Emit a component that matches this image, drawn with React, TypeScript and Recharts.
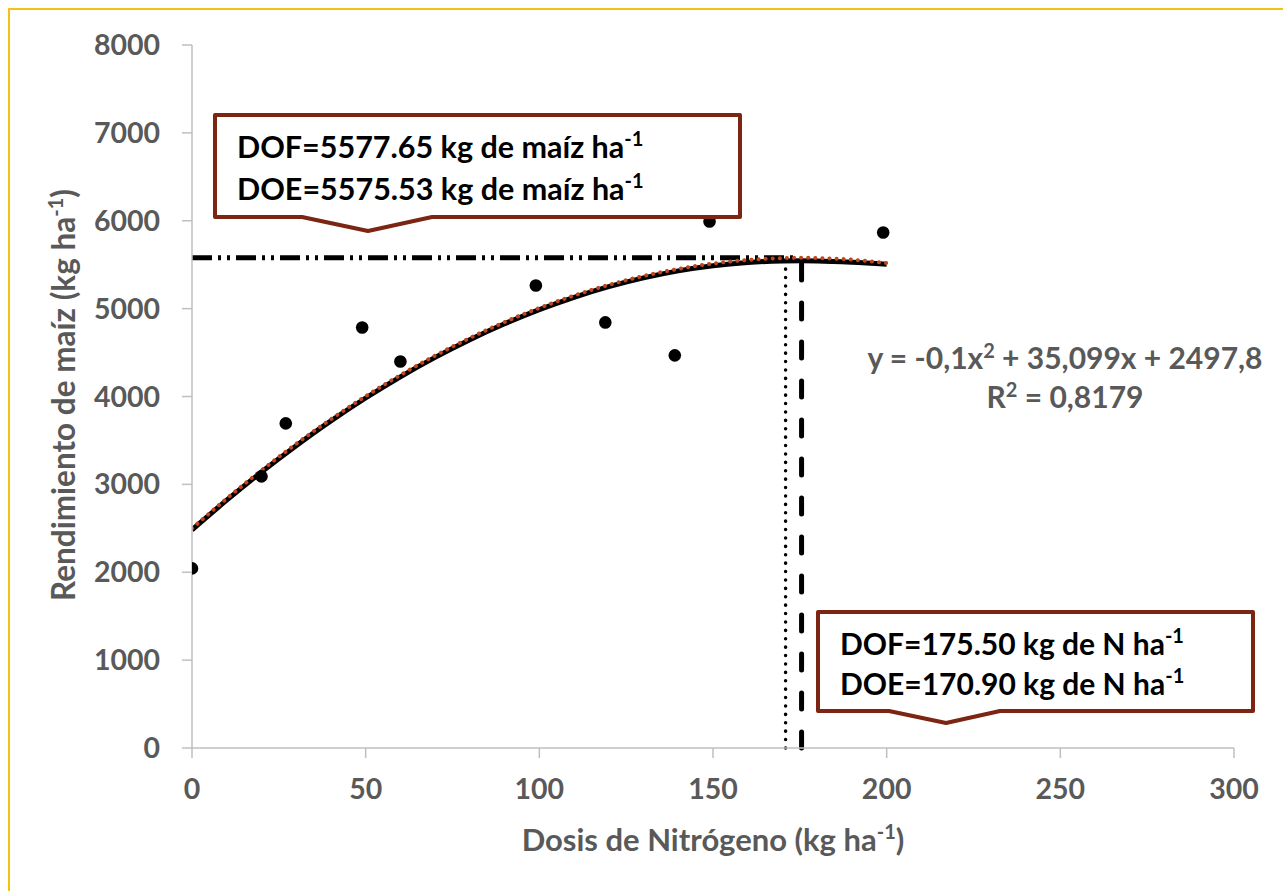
import React from "react";
import { ComposedChart, Line, Scatter, XAxis, YAxis, ReferenceLine } from "recharts";

// Observed data (dose of N, maize yield)
const nitrogenDoses = [0, 20, 27, 49, 60, 99, 119, 139, 149, 199];
const observedYields = [2044, 3091, 3694, 4786, 4399, 5264, 4843, 4468, 5992, 5867];

// Fitted response curve (black solid) and polynomial trendline (red dotted)
const curveDoses = [0, 10, 20, 30, 40, 50, 60, 70, 80, 90, 100, 110, 120, 130, 140, 150, 160, 170, 175.5, 180, 190, 200];
const fittedYields = [2482, 2820, 3140, 3440, 3722, 3983, 4224, 4445, 4646, 4827, 4988, 5129, 5250, 5350, 5430, 5488, 5525, 5542, 5545, 5543, 5528, 5505];
const trendYields = [2498, 2839, 3160, 3461, 3742, 4003, 4244, 4465, 4666, 4847, 5008, 5149, 5270, 5371, 5452, 5513, 5554, 5575, 5578, 5576, 5557, 5518];

const xTicks = [0, 50, 100, 150, 200, 250, 300];
const yTicks = [0, 1000, 2000, 3000, 4000, 5000, 6000, 7000, 8000];

// Optimum values
const dofYield = 5577.65;
const doeYield = 5575.53;
const dofDose = 175.5;
const doeDose = 170.9;

const observedData = nitrogenDoses.map((x, i) => ({ x, y: observedYields[i] }));
const fittedData = curveDoses.map((x, i) => ({ x, y: fittedYields[i] }));
const trendData = curveDoses.map((x, i) => ({ x, y: trendYields[i] }));

const FONT = "Lato, 'Open Sans', sans-serif";
const GRAY = "#595959";
const BROWN = "#7B2512";

const tickStyle = { fill: GRAY, fontSize: 28.5, fontWeight: 700, fontFamily: FONT };

const Dot = (props: any) => <circle cx={props.cx} cy={props.cy} r={6.3} fill="#000" />;

export default function App() {
  return (
    <div style={{ position: "relative", width: 1283, height: 891, overflow: "hidden", background: "#fff" }}>
      <style>{`html,body{margin:0;padding:0;overflow:hidden;background:#fff}`}</style>
      <div
        style={{
          position: "absolute",
          left: 8,
          top: 8,
          width: 1300,
          height: 900,
          border: "2px solid #F2C40F",
          boxSizing: "border-box",
        }}
      />
      <div style={{ position: "absolute", left: 0, top: 0 }}>
        <ComposedChart
          width={1283}
          height={891}
          margin={{ top: 45, right: 49, bottom: 83, left: 112 }}
        >
          <XAxis
            type="number"
            dataKey="x"
            domain={[0, 300]}
            ticks={xTicks}
            allowDataOverflow
            height={60}
            tickSize={10}
            tickMargin={21}
            stroke="#BFBFBF"
            strokeWidth={1.5}
            tick={tickStyle}
          />
          <YAxis
            type="number"
            dataKey="y"
            domain={[0, 8000]}
            ticks={yTicks}
            width={80}
            tickSize={10}
            tickMargin={22}
            stroke="#BFBFBF"
            strokeWidth={1.5}
            tick={tickStyle}
          />
          <ReferenceLine
            segment={[{ x: 0, y: dofYield }, { x: dofDose - 1, y: dofYield }]}
            stroke="#000"
            strokeWidth={5}
            strokeDasharray="20 6 3 6 3 6"
          />
          <ReferenceLine
            segment={[{ x: doeDose, y: 0 }, { x: doeDose, y: doeYield - 100 }]}
            stroke="#000"
            strokeWidth={3.5}
            strokeLinecap="round"
            strokeDasharray="0.1 8.3"
          />
          <ReferenceLine
            segment={[{ x: dofDose, y: 0 }, { x: dofDose, y: dofYield - 20 }]}
            stroke="#000"
            strokeWidth={5}
            strokeLinecap="round"
            strokeDasharray="16 23"
          />
          <Scatter data={observedData} dataKey="y" shape={Dot} isAnimationActive={false} />
          <Line
            data={fittedData}
            dataKey="y"
            type="monotone"
            stroke="#000"
            strokeWidth={5}
            dot={false}
            activeDot={false}
            isAnimationActive={false}
          />
          <Line
            data={trendData}
            dataKey="y"
            type="monotone"
            stroke="#C0461F"
            strokeWidth={4}
            strokeLinecap="round"
            strokeDasharray="0.1 7"
            dot={false}
            activeDot={false}
            isAnimationActive={false}
          />
        </ComposedChart>
      </div>
      <svg
        width={1283}
        height={891}
        style={{ position: "absolute", left: 0, top: 0, pointerEvents: "none" }}
        fontFamily={FONT}
        fontWeight={700}
      >
        {/* Y axis title */}
        <text transform="translate(75,395) rotate(-90)" textAnchor="middle" fill={GRAY} fontSize={31.5}>
          Rendimiento de maíz (kg ha
          <tspan fontSize={20} dy={-12}>-1</tspan>
          <tspan dy={12}>)</tspan>
        </text>
        {/* X axis title */}
        <text x={713} y={851} textAnchor="middle" fill={GRAY} fontSize={31}>
          Dosis de Nitrógeno (kg ha
          <tspan fontSize={20} dy={-12}>-1</tspan>
          <tspan dy={12}>)</tspan>
        </text>
        {/* Equation */}
        <text x={1065} y={369} textAnchor="middle" fill={GRAY} fontSize={30}>
          y = -0,1x
          <tspan fontSize={20} dy={-11}>2</tspan>
          <tspan dy={11}> + 35,099x + 2497,8</tspan>
        </text>
        <text x={1065} y={408} textAnchor="middle" fill={GRAY} fontSize={30}>
          R
          <tspan fontSize={20} dy={-11}>2</tspan>
          <tspan dy={11}> = 0,8179</tspan>
        </text>
        {/* Callout 1 */}
        <path
          d="M215,115 H740 V217 H432 L368,231 L302,217 H215 Z"
          fill="#fff"
          stroke={BROWN}
          strokeWidth={4}
          strokeLinejoin="round"
        />
        <text x={237} y={158} fill="#000" fontSize={30.5}>
          DOF=5577.65 kg de maíz ha
          <tspan fontSize={20} dy={-12}>-1</tspan>
        </text>
        <text x={237} y={200} fill="#000" fontSize={30.5}>
          DOE=5575.53 kg de maíz ha
          <tspan fontSize={20} dy={-12}>-1</tspan>
        </text>
        {/* Callout 2 */}
        <path
          d="M818,612 H1253 V711 H1000 L946,723 L889,711 H818 Z"
          fill="#fff"
          stroke={BROWN}
          strokeWidth={4}
          strokeLinejoin="round"
        />
        <text x={840} y={655} fill="#000" fontSize={30}>
          DOF=175.50 kg de N ha
          <tspan fontSize={20} dy={-12}>-1</tspan>
        </text>
        <text x={840} y={695} fill="#000" fontSize={30}>
          DOE=170.90 kg de N ha
          <tspan fontSize={20} dy={-12}>-1</tspan>
        </text>
      </svg>
    </div>
  );
}
